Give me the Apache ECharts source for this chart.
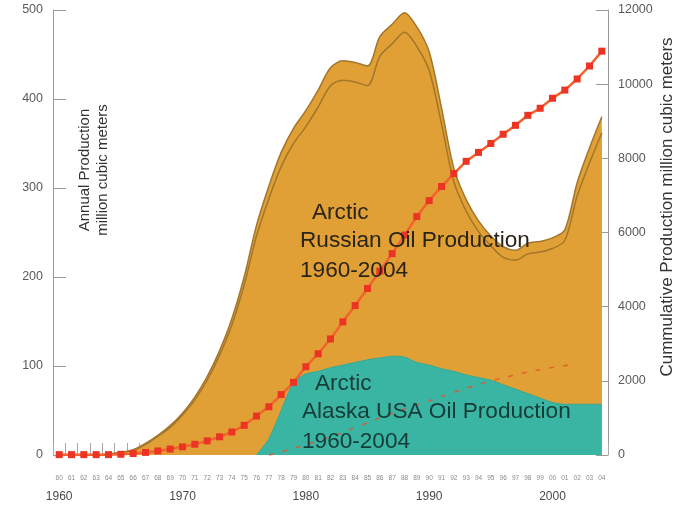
<!DOCTYPE html>
<html>
<head>
<meta charset="utf-8">
<script src="https://cdn.jsdelivr.net/npm/echarts@6/dist/echarts.min.js"></script>
<style>
html,body{margin:0;padding:0;background:#fff;}
#c{width:688px;height:507px;}
</style>
</head>
<body>
<div id="c"></div>
<script>
var years = ['1960','1961','1962','1963','1964','1965','1966','1967','1968','1969',
             '1970','1971','1972','1973','1974','1975','1976','1977','1978','1979',
             '1980','1981','1982','1983','1984','1985','1986','1987','1988','1989',
             '1990','1991','1992','1993','1994','1995','1996','1997','1998','1999',
             '2000','2001','2002','2003','2004'];

// Annual production, Arctic Russia (outer outline), million m3
var russiaOuter = [0,0,0,0,1,3,6,13,22,33,
                   47,65,88,117,153,200,258,302,340,367,
                   387,410,435,443,441,437,470,484,497,481,
                   453,390,322,287,263,246,234,230,238,240,
                   244,253,306,345,380];
// Annual production, Arctic Russia (inner outline)
var russiaInner = [0,0,0,0,1,3,5,12,21,31,
                   45,62,84,112,146,191,246,288,324,350,
                   369,391,415,421,419,415,448,462,475,459,
                   432,372,307,274,251,235,222,219,226,228,
                   232,241,291,328,362];
// Annual production, Arctic Alaska USA
var alaska = [null,null,null,null,null,null,null,null,null,null,
              null,null,null,null,null,null,0,18,50,82,
              91,94,98,101,104,107,109,111,110,104,
              101,97,94,90,87,84,79,74,69,64,
              59,57,57,57,57];
// Cumulative production, Russia (right axis)
var cumRussia = [10,10,10,10,10,20,40,70,110,160,
                 220,290,380,490,620,800,1050,1300,1630,1960,
                 2380,2730,3130,3590,4030,4490,4960,5430,5930,6430,
                 6860,7240,7590,7920,8160,8400,8650,8890,9160,9350,
                 9620,9840,10140,10490,10890];
// Cumulative production, Alaska (right axis)
var cumAlaska = [null,null,null,null,null,null,null,null,null,null,
                 null,null,null,null,null,null,null,0,80,180,
                 280,380,490,610,740,870,1000,1120,1240,1350,
                 1460,1580,1690,1800,1900,2000,2080,2160,2240,2300,
                 2360,2410,2460,null,null];

var leftTicks = [0,100,200,300,400,500];
var rightTicks = [0,2000,4000,6000,8000,10000,12000];

var FONT = 'Liberation Sans, Arial, sans-serif';
var chart = echarts.init(document.getElementById('c'));
var orange = '#e1a036';
var outline = '#a2762a';

chart.setOption({
  animation: false,
  backgroundColor: '#ffffff',
  grid: {left: 53, right: 80, top: 10, bottom: 52},
  xAxis: [{
    type: 'category', position: 'bottom', data: years, boundaryGap: true,
    axisLine: {show: false},
    axisTick: {show: true, inside: true, length: 12, interval: 0, lineStyle: {color: '#a8a8a8'}},
    axisLabel: {interval: 0, margin: 20, fontSize: 6.5, color: '#8a8a8a', fontFamily: FONT,
                formatter: function (v) { return v.slice(2); }},
    splitLine: {show: false}
  }, {
    type: 'category', position: 'bottom', data: years, boundaryGap: true,
    axisLine: {show: false}, axisTick: {show: false},
    axisLabel: {interval: function (i) { return i % 10 === 0; }, margin: 36, fontSize: 12,
                color: '#4a4a4a', fontFamily: FONT},
    splitLine: {show: false}
  }],
  yAxis: [{
    type: 'value', min: leftTicks[0], max: leftTicks[leftTicks.length - 1], interval: 100,
    position: 'left',
    axisLine: {show: true, lineStyle: {color: '#9a9a9a'}},
    axisTick: {show: true, inside: true, length: 13, lineStyle: {color: '#9a9a9a'}},
    axisLabel: {margin: 10, fontSize: 12.5, color: '#5a5a5a', fontFamily: FONT},
    splitLine: {show: false}
  }, {
    type: 'value', min: rightTicks[0], max: rightTicks[rightTicks.length - 1], interval: 2000,
    position: 'right',
    axisLine: {show: true, lineStyle: {color: '#9a9a9a'}},
    axisTick: {show: true, inside: true, length: 12, lineStyle: {color: '#9a9a9a'}},
    axisLabel: {margin: 10, fontSize: 12.5, color: '#5a5a5a', fontFamily: FONT,
                formatter: function (v) { return String(v); }},
    splitLine: {show: false}
  }],
  series: [{
    name: 'Russia outer', type: 'line', data: russiaOuter, smooth: 0.3, symbol: 'none', z: 2,
    lineStyle: {color: outline, width: 1.5},
    areaStyle: {color: orange, opacity: 1}
  }, {
    name: 'Russia inner', type: 'line', data: russiaInner, smooth: 0.3, symbol: 'none', z: 3,
    lineStyle: {color: outline, width: 1.5},
    areaStyle: {color: orange, opacity: 1}
  }, {
    name: 'Alaska', type: 'line', data: alaska, smooth: 0.2, symbol: 'none', z: 4,
    lineStyle: {color: '#37a996', width: 1},
    areaStyle: {color: '#3bb5a3', opacity: 1}
  }, {
    name: 'Cumulative Alaska', type: 'line', data: cumAlaska, yAxisIndex: 1, smooth: 0.3,
    symbol: 'none', z: 5,
    lineStyle: {color: '#e4502e', width: 1.6, type: [5, 9], opacity: 0.8}
  }, {
    name: 'Cumulative Russia', type: 'line', data: cumRussia, yAxisIndex: 1,
    symbol: 'rect', symbolSize: 7, z: 6,
    lineStyle: {color: '#f4622c', width: 2.5},
    itemStyle: {color: '#ec3424'}
  }],
  graphic: [
    {type: 'text', x: 312, y: 213, z: 100,
     style: {text: 'Arctic', font: '22.6px ' + FONT, fill: '#2a2418', verticalAlign: 'middle'}},
    {type: 'text', x: 300, y: 241, z: 100,
     style: {text: 'Russian Oil Production', font: '22.6px ' + FONT, fill: '#2a2418', verticalAlign: 'middle'}},
    {type: 'text', x: 300, y: 271, z: 100,
     style: {text: '1960-2004', font: '22.6px ' + FONT, fill: '#2a2418', verticalAlign: 'middle'}},
    {type: 'text', x: 315, y: 384, z: 100,
     style: {text: 'Arctic', font: '22.6px ' + FONT, fill: '#153c36', verticalAlign: 'middle'}},
    {type: 'text', x: 302, y: 412, z: 100,
     style: {text: 'Alaska USA Oil Production', font: '22.6px ' + FONT, fill: '#153c36', verticalAlign: 'middle'}},
    {type: 'text', x: 302, y: 442, z: 100,
     style: {text: '1960-2004', font: '22.6px ' + FONT, fill: '#153c36', verticalAlign: 'middle'}},
    {type: 'text', x: 94, y: 170, rotation: Math.PI / 2, z: 100,
     style: {text: 'Annual Production\nmillion cubic meters', font: '15px ' + FONT, fill: '#333',
             align: 'center', verticalAlign: 'middle', lineHeight: 18}},
    {type: 'text', x: 667, y: 207, rotation: Math.PI / 2, z: 100,
     style: {text: 'Cummulative Production million cubic meters', font: '17px ' + FONT, fill: '#333',
             align: 'center', verticalAlign: 'middle'}}
  ]
});
</script>
</body>
</html>
